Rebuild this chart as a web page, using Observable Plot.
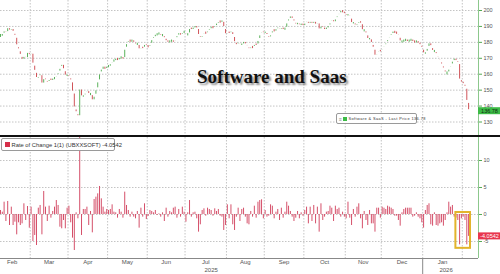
<!DOCTYPE html>
<html><head><meta charset="utf-8">
<script src="https://cdn.jsdelivr.net/npm/d3@7"></script>
<script src="https://cdn.jsdelivr.net/npm/@observablehq/plot@0.6"></script>
<style>
html,body{margin:0;padding:0;background:#fff;}
#wrap{position:relative;width:500px;height:274px;overflow:hidden;font-family:"Liberation Sans",Arial,sans-serif;background:#fff;}
#top,#bot{position:absolute;left:0;}
#top{top:0} #bot{top:136px}
#sep{position:absolute;left:0;top:135px;width:500px;height:2px;background:#111;}
#title{position:absolute;left:197px;top:67px;line-height:19px;white-space:nowrap;font-family:"Liberation Serif","Times New Roman",serif;font-weight:bold;font-size:19px;color:#111;text-shadow:2px 2px 2px rgba(0,0,0,0.45);}
.leg{position:absolute;background:#fff;border:1px solid #9a9a9a;border-radius:2px;color:#333;white-space:nowrap;display:flex;align-items:center;box-sizing:border-box;}
.sq{display:inline-block;width:4px;height:4px;margin-right:1.5px;flex:none;}
</style></head><body>
<div id="wrap">
  <div id="top"></div>
  <div id="bot"></div>
  <div id="sep"></div>
  <div id="title"></div>
  <div class="leg" id="leg1" style="left:336px;top:113px;width:81px;height:11px;font-size:3.9px;letter-spacing:0.4px;"></div>
  <div class="leg" id="leg2" style="left:1px;top:138px;width:114px;height:13px;font-size:5.8px;"></div>
</div>
<script>
// ---------------- data ----------------
const titleText = "Software and Saas";
const seriesName = "Software & SaaS";
const rocName = "Rate of Change 1(1) (UBXXSOFT)";
const startDate = "2025-02-06";   // first trading day shown
const closes = [
184.0,184.8,187.5,185.8,189.5,186.8,189.0,186.0,183.5,177.5,
175.0,171.5,168.5,171.5,169.5,174.0,171.5,173.5,166.0,161.5,
157.0,158.5,160.0,153.5,157.5,156.0,154.5,157.0,156.0,157.0,
157.5,159.5,161.0,164.0,166.5,162.5,158.5,159.5,158.0,155.5,
148.5,138.5,135.5,133.0,151.0,145.5,146.5,148.0,150.0,147.0,
147.5,143.0,146.5,150.5,155.5,160.5,163.5,164.0,163.5,164.5,
165.0,166.0,168.0,168.5,169.5,169.0,170.0,170.5,169.5,176.0,
179.5,181.0,180.5,181.0,180.0,178.5,179.0,175.0,177.0,176.0,
179.0,177.5,177.0,178.5,182.0,183.5,184.5,185.0,185.5,184.0,
184.5,182.0,181.0,180.0,180.5,181.0,180.0,182.0,184.5,185.5,
184.5,186.0,186.5,184.5,185.0,189.0,188.0,189.0,190.0,189.0,
184.0,182.5,184.0,186.0,185.5,187.0,188.5,189.5,189.0,190.5,
191.5,193.0,192.5,193.5,189.0,184.5,186.5,185.5,187.0,184.0,
179.5,178.5,180.0,178.0,179.0,180.0,179.0,177.0,175.5,177.0,
176.5,179.0,178.0,181.5,185.0,187.0,185.5,186.5,184.0,182.5,
185.0,187.5,187.0,188.0,189.5,187.5,189.0,188.0,188.5,192.5,
195.0,196.0,195.0,192.5,191.0,192.0,190.5,191.5,190.5,191.5,
193.5,191.0,193.5,191.0,193.5,190.5,192.5,187.5,190.5,189.0,
188.0,189.0,190.0,192.5,194.5,192.0,195.0,196.5,198.5,199.5,
199.0,198.0,196.5,197.5,195.5,191.5,192.5,190.0,191.5,193.0,
192.0,187.0,187.5,185.0,181.5,182.5,179.0,176.0,171.0,173.0,
175.0,174.0,176.0,178.0,179.5,182.0,184.0,185.5,186.5,186.0,
185.5,183.5,180.0,180.5,181.0,181.5,180.5,181.0,181.5,180.5,
180.0,180.5,179.5,178.5,176.0,172.5,173.5,176.5,180.0,177.0,
174.0,174.5,172.0,170.0,168.0,165.5,163.0,160.5,160.5,163.5,
165.5,168.5,169.5,168.5,167.0,156.0,155.0,154.0,151.5,142.6,
136.78];
const roc = [
0.74,0.43,2.28,-1.30,2.41,-2.04,1.36,-2.04,-1.42,-3.77,
-1.54,-2.04,-1.73,1.98,-1.11,1.48,-2.53,1.36,-5.0,-3.89,
-5.74,1.17,1.67,-3.77,4.26,1.36,-1.30,1.54,-0.68,0.56,
1.36,2.59,1.67,-2.35,-2.65,-1.11,-2.65,1.17,1.54,-1.54,
-4.38,-6.67,0.31,-0.80,14.5,-3.89,0.93,0.93,1.36,-2.04,
0.56,-3.40,2.78,3.21,3.83,5.19,2.90,1.36,0.43,0.93,
0.74,0.93,1.79,0.43,0.31,-0.68,0.93,0.43,-0.68,4.14,
1.67,0.74,-0.49,0.43,-0.49,-0.80,0.56,-2.53,1.17,-0.49,
1.98,-0.93,-0.37,0.74,0.56,0.31,0.74,-0.19,0.12,-0.49,
0.31,-1.30,1.17,-0.49,0.56,0.31,1.17,1.36,-0.68,0.93,
-0.49,1.36,0.43,-1.42,0.31,2.59,-0.49,0.31,0.43,-0.80,
-3.27,-1.91,0.74,1.05,-0.31,1.17,0.93,0.74,-0.31,1.05,
0.56,0.93,-0.31,-0.49,-2.96,-2.04,1.79,-0.80,1.79,-1.91,
-2.96,-0.49,1.17,-1.30,0.93,1.17,-0.49,-1.73,-1.91,0.56,
-0.49,1.54,-0.68,2.28,2.59,2.72,-0.80,0.74,-0.49,-0.31,
1.79,1.54,-0.80,0.43,0.93,-1.11,1.17,-0.68,0.43,2.28,
1.54,0.56,-0.49,-1.30,-0.68,0.56,-0.80,0.31,-0.31,0.74,
1.36,-1.73,1.36,-1.30,1.67,-1.73,1.36,-3.27,1.98,-1.11,
-0.49,0.43,0.56,1.54,1.17,-1.30,1.54,0.93,1.17,-0.49,
0.43,-0.49,-0.80,2.28,-0.68,-2.04,0.93,-0.49,1.36,1.98,
-0.80,-2.65,0.56,-1.11,-2.04,0.74,-1.73,-1.73,-3.27,1.17,
1.17,-0.68,1.36,1.17,0.93,1.54,1.36,1.17,0.93,-0.31,
-0.31,-1.11,-2.16,0.31,0.93,1.17,1.17,1.17,1.17,-0.49,
-0.31,0.31,-0.49,-0.80,-1.54,-2.53,0.74,1.67,1.98,-1.91,
-2.16,0.31,-2.04,-2.16,-1.73,-1.54,-2.16,-1.11,0.31,2.28,
1.36,1.67,-0.49,-0.68,-1.11,-5.62,-0.80,-0.49,-1.11,-5.62,
-4.0542];
const priceTicks = [130,140,150,160,170,180,190,200];
const rocTicks = [-5,0,5,10];
const highlightDays = 7;   // last sessions boxed in yellow

// ---------------- derived ----------------
function weekdays(start, n) {
  const d = new Date(start + "T00:00:00Z"), out = [];
  while (out.length < n) { const w = d.getUTCDay(); if (w !== 0 && w !== 6) out.push(new Date(d)); d.setUTCDate(d.getUTCDate() + 1); }
  return out;
}
const N = closes.length;
const dates = weekdays(startDate, N);
const ohlc = closes.map((c, i) => { const o = i ? closes[i - 1] : c; return {i, lo: Math.min(o, c), hi: Math.max(o, c), up: c >= o}; });
const rocData = roc.map((v, i) => ({i, v}));

const monthStarts = [];
for (let i = 1; i < N; i++) if (dates[i].getUTCMonth() !== dates[i - 1].getUTCMonth()) monthStarts.push(i);
let lead = 0; { const d = new Date(Date.UTC(dates[0].getUTCFullYear(), dates[0].getUTCMonth(), 1)); while (d < dates[0]) { const w = d.getUTCDay(); if (w !== 0 && w !== 6) lead++; d.setUTCDate(d.getUTCDate() + 1); } }
const segStarts = [-lead, ...monthStarts], segEnds = [...monthStarts, N];
const fmtM = d3.utcFormat("%b");
const monthLabels = segStarts.map((s, k) => ({mid: (s + segEnds[k]) / 2 - 0.5, label: fmtM(dates[Math.max(0, s)]), len: segEnds[k] - s}))
  .filter(d => d.len >= 15);
const yearStarts = [];
for (let i = 1; i < N; i++) if (dates[i].getUTCFullYear() !== dates[i - 1].getUTCFullYear()) yearStarts.push(i);
const ys = [0, ...yearStarts], ye = [...yearStarts, N];
const yearLabels = ys.map((s, k) => ({mid: (s + ye[k]) / 2 - 0.5, label: String(dates[s].getUTCFullYear())}));

const xDomain = [0, 265.5];
const xMax = xDomain[1];
const font = "Liberation Sans, Arial, sans-serif";
const grid = "#c4c4c4";
const green = "#5cb25c", red = "#d0555a";

// ---------------- top panel ----------------
const yTop = [120.9, 206.28];
const last = closes[N - 1];
const topPlot = Plot.plot({
  width: 500, height: 136, marginLeft: 0, marginRight: 22, marginTop: 0, marginBottom: 0,
  style: {fontFamily: font, background: "transparent", overflow: "visible"},
  x: {domain: xDomain, axis: null},
  y: {domain: yTop, axis: null},
  marks: [
    Plot.ruleX(monthStarts, {x: d => d - 0.5, stroke: grid, strokeDasharray: "1.5,1.5"}),
    Plot.ruleY(priceTicks, {stroke: grid, strokeDasharray: "1.5,1.5"}),
    Plot.ruleX(ohlc, {x: "i", y1: "lo", y2: "hi", stroke: d => d.up ? green : red, strokeWidth: 1, insetTop: -1.5, insetBottom: -1.5}),
    Plot.ruleX([xMax], {stroke: "#8cc88c"}),
    Plot.axisY(priceTicks, {anchor: "right", tickSize: 3, tickPadding: 2, stroke: "#55aa55", fill: "#555", fontSize: 5.5, tickFormat: d => String(d)}),
    Plot.rect([last], {x1: xMax, x2: xMax, y1: d => d, y2: d => d, insetRight: -22, insetTop: -3.5, insetBottom: -3.5, fill: "#3dbb46"}),
    Plot.text([last], {x: xMax, y: d => d, text: d => d.toFixed(2), dx: 11, fill: "#102a10", fontSize: 5.5})
  ]
});
document.getElementById("top").appendChild(topPlot);

// ---------------- bottom panel ----------------
const yBot = [-8.15, 14.26];
const lastRoc = roc[N - 1];
const hlSlice = roc.slice(N - highlightDays);
const hl = {x1: N - highlightDays - 0.5, x2: N - 0.5, y1: d3.min(hlSlice), y2: 0};
const botPlot = Plot.plot({
  width: 500, height: 138, marginLeft: 0, marginRight: 22, marginTop: 1, marginBottom: 16,
  style: {fontFamily: font, background: "transparent", overflow: "visible"},
  x: {domain: xDomain, axis: null},
  y: {domain: yBot, axis: null},
  marks: [
    Plot.ruleX(monthStarts, {x: d => d - 0.5, stroke: grid, strokeDasharray: "1.5,1.5"}),
    Plot.ruleY(rocTicks, {stroke: grid, strokeDasharray: "1.5,1.5"}),
    Plot.ruleX(rocData, {x: "i", y1: 0, y2: "v", stroke: "#d5506a", strokeWidth: 1, clip: true}),
    Plot.rect([hl], {x1: "x1", x2: "x2", y1: "y1", y2: "y2", insetLeft: -1, insetRight: -1, insetTop: -2, insetBottom: -3.5, fill: "none", stroke: "#e2b42c", strokeWidth: 2}),
    Plot.ruleY([yBot[0]], {stroke: "#888"}),
    Plot.ruleX([xMax], {stroke: "#8cc88c"}),
    Plot.ruleX(yearStarts, {x: d => d - 0.5, y1: yBot[0], y2: yBot[0], insetBottom: -16, stroke: "#888"}),
    Plot.axisY(rocTicks, {anchor: "right", tickSize: 3, tickPadding: 2, stroke: "#55aa55", fill: "#555", fontSize: 5.5, tickFormat: d => String(d)}),
    Plot.rect([lastRoc], {x1: xMax, x2: xMax, y1: d => d, y2: d => d, insetRight: -22, insetTop: -3.5, insetBottom: -3.5, fill: "#e8364e"}),
    Plot.text([lastRoc], {x: xMax, y: d => d, text: d => d.toFixed(4), dx: 11, fill: "#fff", fontSize: 5.5}),
    Plot.text(monthLabels, {x: "mid", text: "label", frameAnchor: "bottom", lineAnchor: "top", dy: 1.5, fill: "#555", fontSize: 6}),
    Plot.text(yearLabels, {x: "mid", text: "label", frameAnchor: "bottom", lineAnchor: "top", dy: 9.5, fill: "#555", fontSize: 6})
  ]
});
document.getElementById("bot").appendChild(botPlot);

// ---------------- title & legends ----------------
document.getElementById("title").textContent = titleText;
const leg1 = document.getElementById("leg1");
leg1.innerHTML = `<span style="color:#888;margin:0 1px 0 2px;font-size:5px;flex:none;letter-spacing:0">≡</span><span class="sq" style="background:#3dbb46"></span><span></span>`;
leg1.lastChild.textContent = `${seriesName} - Last Price ${last.toFixed(2)}`;
const leg2 = document.getElementById("leg2");
leg2.innerHTML = `<span class="sq" style="background:#d62f4a;margin-left:3px;width:5px;height:5px"></span><span></span>`;
leg2.lastChild.textContent = `${rocName} ${lastRoc}`;
</script>
</body></html>
